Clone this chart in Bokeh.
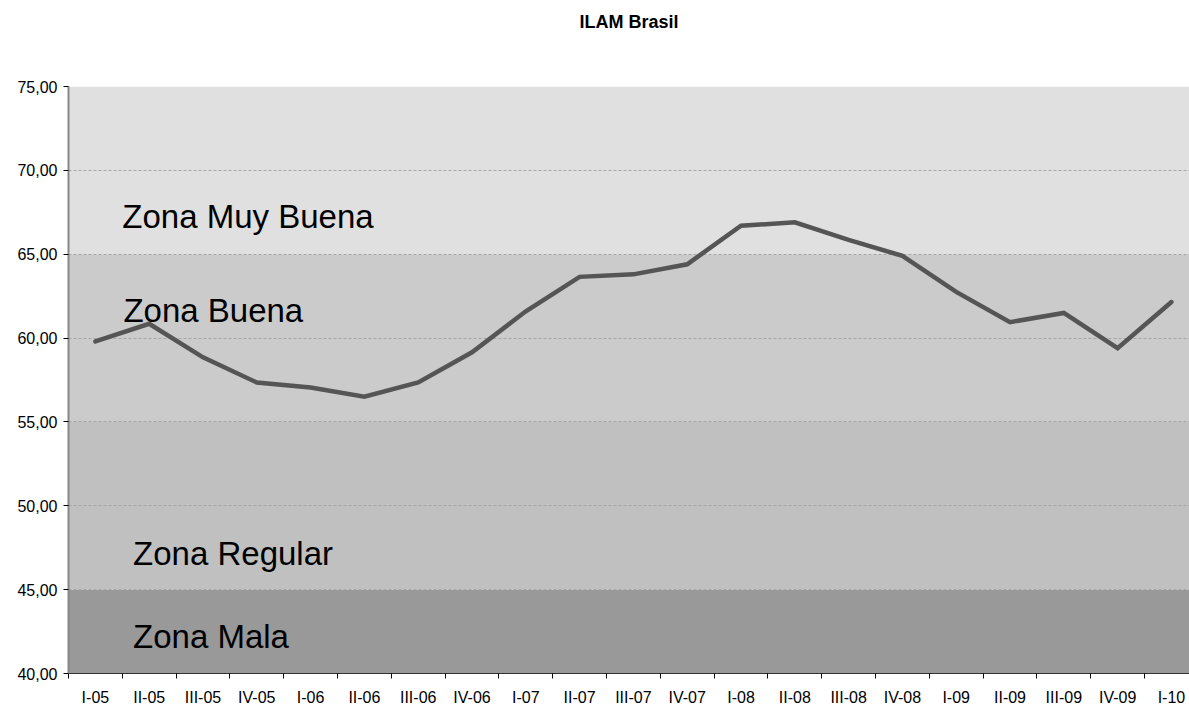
from bokeh.plotting import figure
from bokeh.models import (Range1d, FixedTicker, CustomJSTickFormatter, BoxAnnotation, Label, Title)
from bokeh.embed import file_html
from bokeh.resources import INLINE

# ---- data ----
quarters = ["I-05", "II-05", "III-05", "IV-05", "I-06", "II-06", "III-06", "IV-06",
            "I-07", "II-07", "III-07", "IV-07", "I-08", "II-08", "III-08", "IV-08",
            "I-09", "II-09", "III-09", "IV-09", "I-10"]
ilam = [59.8, 60.85, 58.85, 57.35, 57.05, 56.5, 57.35, 59.15, 61.6, 63.65, 63.8,
        64.4, 66.7, 66.9, 65.85, 64.9, 62.75, 60.95, 61.5, 59.4, 62.15]
y_ticks = [40, 45, 50, 55, 60, 65, 70, 75]
zone_names = ["Zona Mala", "Zona Regular", "Zona Buena", "Zona Muy Buena"]
zone_bottom = [40, 45, 55, 65]
zone_top = [45, 55, 65, 75]
zone_colors = ["#999999", "#c0c0c0", "#cbcbcb", "#e0e0e0"]
title_text = "ILAM Brasil"

FONT = "Liberation Sans"

p = figure(width=1189, height=708, output_backend="svg", toolbar_location=None,
           x_range=Range1d(-0.5, 20.336), y_range=Range1d(40, 75),
           min_border_left=68, min_border_right=0, min_border_top=86, min_border_bottom=33)
p.outline_line_color = None
p.background_fill_color = "#ffffff"

# real title (outer panel) with a blank spacer panel between it and the frame
p.title.text = title_text
p.title.align = "center"
p.title.text_font = FONT
p.title.text_font_size = "18px"
p.title.text_font_style = "bold"
p.title.text_color = "#000000"
p.title.standoff = 10
p.add_layout(Title(text="\u00a0", text_font=FONT, text_font_size="18px", standoff=28), "above")

# zone bands
for b, t, c in zip(zone_bottom, zone_top, zone_colors):
    p.add_layout(BoxAnnotation(bottom=b, top=t, fill_color=c, fill_alpha=1.0,
                               line_color=None, level="image"))

# grid
p.xgrid.grid_line_color = None
p.ygrid.ticker = FixedTicker(ticks=y_ticks)
p.ygrid.grid_line_color = "#a6a6a6"
p.ygrid.grid_line_dash = "3 2"
p.ygrid.grid_line_width = 1

# series line
xs = list(range(len(quarters)))
p.line(xs, ilam, line_color="#555555", line_width=4.5, line_join="miter", line_cap="round")

# zone labels
zone_label_pos = {"Zona Muy Buena": (0.5, 67.23), "Zona Buena": (0.52, 61.63),
                  "Zona Regular": (0.7, 47.13), "Zona Mala": (0.7, 42.18)}
for name in zone_names:
    lx, ly = zone_label_pos[name]
    p.add_layout(Label(x=lx, y=ly, text=name, text_font=FONT, text_font_size="33px",
                       text_color="#000000", text_baseline="alphabetic", text_align="left"))

# x axis
xa = p.xaxis[0]
xa.ticker = FixedTicker(ticks=xs, minor_ticks=[i + 0.5 for i in range(-1, len(quarters))])
xa.formatter = CustomJSTickFormatter(args=dict(labels=quarters),
                                     code="var i = Math.round(tick); return (i >= 0 && i < labels.length) ? labels[i] : '';")
xa.major_tick_line_color = None
xa.minor_tick_line_color = "#000000"
xa.minor_tick_out = 5
xa.minor_tick_in = 0
xa.axis_line_color = "#333333"
xa.axis_line_width = 1
xa.major_label_text_font = FONT
xa.major_label_text_font_size = "16px"
xa.major_label_text_color = "#000000"
xa.major_label_standoff = 9

# y axis
ya = p.yaxis[0]
ya.ticker = FixedTicker(ticks=y_ticks)
ya.formatter = CustomJSTickFormatter(code="return tick.toFixed(2).replace('.', ',');")
ya.major_tick_line_color = "#000000"
ya.major_tick_out = 5
ya.major_tick_in = 0
ya.minor_tick_line_color = None
ya.axis_line_color = "#888888"
ya.axis_line_width = 2
ya.major_label_text_font = FONT
ya.major_label_text_font_size = "16px"
ya.major_label_text_color = "#000000"
ya.major_label_standoff = 6

open("out.html", "w").write(file_html(p, INLINE))
